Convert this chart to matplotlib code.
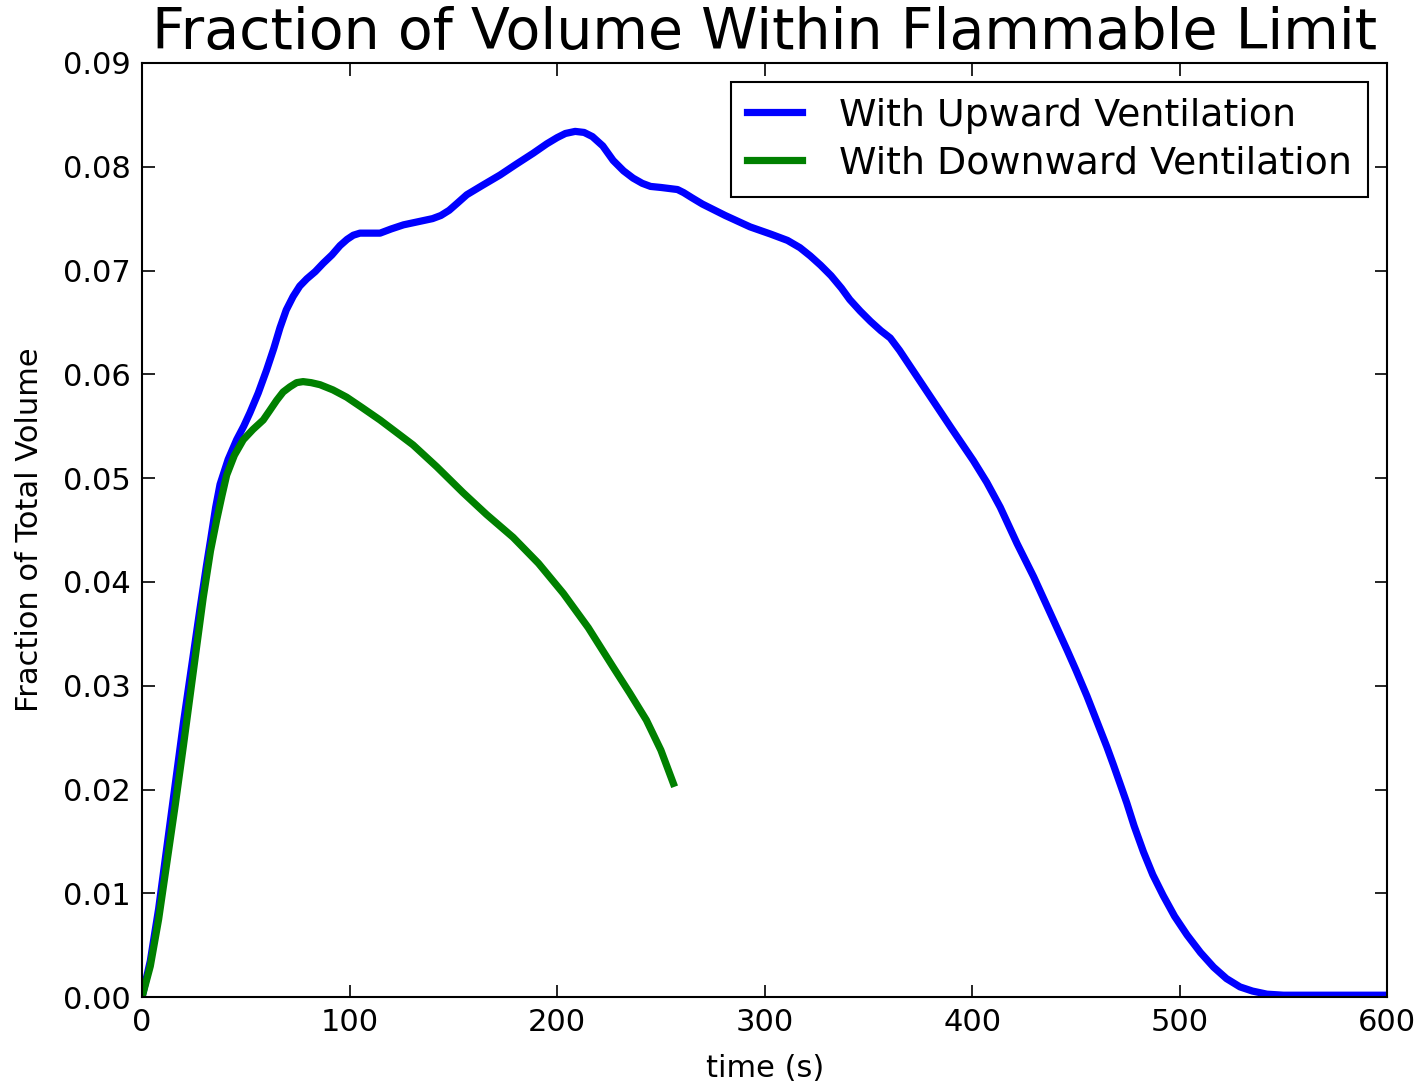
import matplotlib.pyplot as plt
from matplotlib.ticker import FormatStrFormatter

# Datos (tiempo en s, fraccion de volumen)
t_arriba = [0, 4, 8, 12, 16, 20, 24, 28, 31, 33, 35.5, 37.6, 41.5, 45.6, 49, 52,
            56, 60, 63.5, 66.5, 69.5, 72.8, 76, 79.4, 83.5, 87.3, 91.5, 95.4, 98.8,
            101.8, 105, 109, 114.7, 120, 126, 133, 140, 144, 148, 152, 156.5, 164,
            172.5, 180, 188.5, 195, 200, 204, 208.7, 213, 217, 222, 227, 232, 236.6,
            241, 245, 250, 254, 258, 261, 265, 270, 281, 293, 303, 311, 317, 322,
            327, 332, 337, 341, 346, 351, 356, 360.5, 365, 370, 375, 381, 390, 400.5,
            407, 413.5, 421.6, 429.6, 437.6, 445.8, 450, 455.3, 460, 464.9, 468,
            471, 474.5, 478, 482.5, 487, 492, 497.5, 503.5, 510, 516.3, 522.5, 529,
            535, 542, 550, 560, 575, 600]
v_arriba = [0.0, 0.0035, 0.0085, 0.0145, 0.0205, 0.0265, 0.0320, 0.0375, 0.0415,
            0.0440, 0.0472, 0.0494, 0.0518, 0.0537, 0.0550, 0.0563, 0.0582, 0.0604,
            0.0625, 0.0645, 0.0662, 0.0675, 0.0685, 0.0692, 0.0699, 0.0707, 0.0715,
            0.0724, 0.0730, 0.0734, 0.0736, 0.0736, 0.0736, 0.0740, 0.0744, 0.0747,
            0.0750, 0.0753, 0.0758, 0.0765, 0.0773, 0.0782, 0.0792, 0.0802, 0.0813,
            0.0822, 0.0828, 0.0832, 0.0834, 0.0833, 0.0829, 0.0820, 0.0806, 0.0796,
            0.0789, 0.0784, 0.0781, 0.0780, 0.0779, 0.0778, 0.0775, 0.0770, 0.0764,
            0.0753, 0.0742, 0.0735, 0.0729, 0.0722, 0.0714, 0.0705, 0.0695, 0.0683,
            0.0672, 0.0661, 0.0651, 0.0642, 0.0635, 0.0623, 0.0608, 0.0593, 0.0575,
            0.0548, 0.0517, 0.0496, 0.0472, 0.0437, 0.0405, 0.0370, 0.0334, 0.0315,
            0.0290, 0.0266, 0.0241, 0.0224, 0.0207, 0.0187, 0.0165, 0.0140, 0.0118,
            0.0098, 0.0078, 0.0060, 0.0043, 0.0029, 0.0018, 0.0010, 0.0006, 0.0003,
            0.0002, 0.0002, 0.0002, 0.0002]

t_abajo = [0, 4, 8, 12, 16, 20, 24, 29.5, 33, 36, 38.5, 40.8, 44.5, 48.8, 53.5,
           58.4, 61.5, 64.9, 68, 71.3, 74.5, 77.6, 81.5, 85.8, 92, 98.6, 106,
           114.7, 122, 130.6, 142, 154.7, 166, 178.8, 191, 203, 215, 227, 235, 243,
           250, 256]
v_abajo = [0.0, 0.0030, 0.0075, 0.0130, 0.0185, 0.0243, 0.0303, 0.0385, 0.0430,
           0.0460, 0.0483, 0.0503, 0.0522, 0.0537, 0.0547, 0.0556, 0.0565, 0.0575,
           0.0583, 0.0588, 0.0592, 0.0593, 0.0592, 0.0590, 0.0585, 0.0578, 0.0568,
           0.0556, 0.0545, 0.0532, 0.0511, 0.0486, 0.0465, 0.0443, 0.0418, 0.0389,
           0.0356, 0.0318, 0.0293, 0.0267, 0.0238, 0.0206]

fig = plt.figure(figsize=(14.2, 10.84), dpi=100)
ax = fig.add_axes([0.1, 0.080, 0.877, 0.862])

ax.plot(t_arriba, v_arriba, color='#0000ff', linewidth=5.2,
        solid_joinstyle='round', label='With Upward Ventilation')
ax.plot(t_abajo, v_abajo, color='#008000', linewidth=5.2,
        solid_joinstyle='round', label='With Downward Ventilation')

ax.set_xlim(0, 600)
ax.set_ylim(0, 0.09)
ax.set_xticks(range(0, 601, 100))
ax.set_yticks([i / 100 for i in range(10)])
ax.yaxis.set_major_formatter(FormatStrFormatter('%.2f'))
ax.tick_params(direction='in', top=True, right=True, length=9, width=1.2,
               labelsize=22, pad=8)
for s in ax.spines.values():
    s.set_linewidth(1.5)

ax.set_xlabel('time (s)', fontsize=22, labelpad=12)
ax.set_ylabel('Fraction of Total Volume', fontsize=22, labelpad=14)
ax.set_title('Fraction of Volume Within Flammable Limit', fontsize=41, pad=10)

leg = ax.legend(loc='upper right', fontsize=27.3, fancybox=False, framealpha=1,
                edgecolor='black', handlelength=1.45, handletextpad=1.0,
                borderpad=0.42, labelspacing=0.3, borderaxespad=0.5)
leg.get_frame().set_linewidth(1.5)

fig.savefig('out.png', dpi=100)
